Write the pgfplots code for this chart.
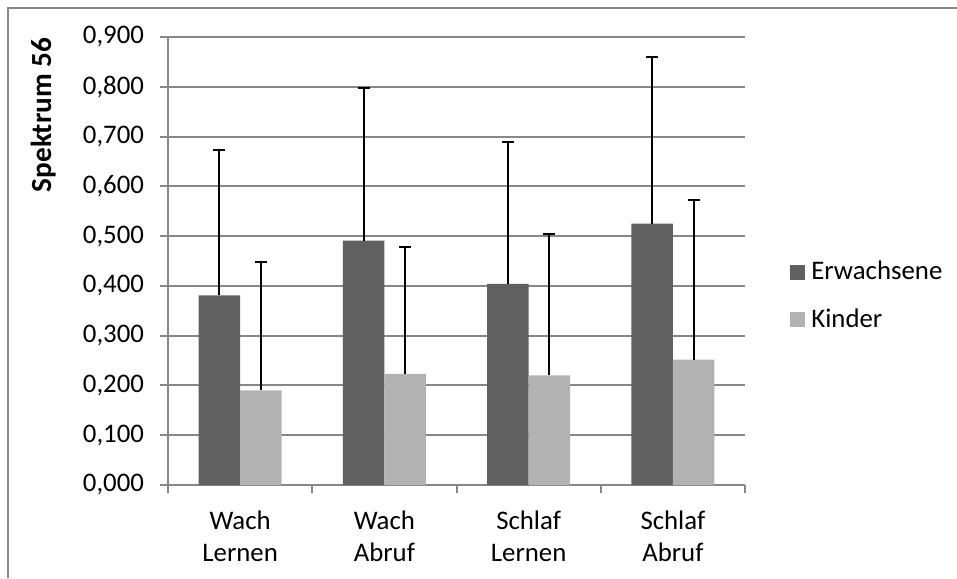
\documentclass[border=0pt]{standalone}
\usepackage{pgfplots}
\pgfplotsset{compat=1.18}
\usepackage{fontspec}
\setmainfont{Carlito}

\definecolor{erw}{HTML}{606060}
\definecolor{kind}{HTML}{B2B2B2}
\definecolor{gridgray}{HTML}{878787}

% 1 px of the reference = 0.5pt
\begin{document}
\begin{tikzpicture}[font=\fontsize{13.4}{16}\selectfont]
  \useasboundingbox (0,0) rectangle (478.5pt,289pt);
  \draw[gridgray, line width=1pt] (3.9pt,0) -- (3.9pt,285.2pt) -- (478.5pt,285.2pt);
  \node[rotate=90, font=\fontsize{14.6}{16}\selectfont\bfseries] at (21.7pt,231.5pt) {Spektrum 56};
  \begin{axis}[
    at={(84pt,46.5pt)}, anchor=south west,
    scale only axis,
    width=288.5pt, height=224pt,
    ybar=0pt, bar width=20.75pt,
    xmin=-0.5, xmax=3.5,
    ymin=0, ymax=0.9,
    ytick={0,0.1,...,0.9},
    xtick={0,1,2,3},
    xticklabels={{Wach\\Lernen},{Wach\\Abruf},{Schlaf\\Lernen},{Schlaf\\Abruf}},
    xticklabel style={align=center, yshift=-5.5pt},
    minor xtick={-0.5,0.5,1.5,2.5,3.5},
    major x tick style={draw=none},
    minor x tick style={gridgray, line width=1pt},
    y tick style={gridgray, line width=1pt},
    tick align=outside,
    major tick length=4pt, minor tick length=4pt,
    axis x line*=bottom, axis y line*=left,
    axis line style={gridgray, line width=1pt},
    ymajorgrids, grid style={gridgray, line width=1pt},
    yticklabel style={/pgf/number format/fixed, /pgf/number format/fixed zerofill,
      /pgf/number format/precision=3, /pgf/number format/use comma,
      /pgf/number format/assume math mode=true, xshift=-4.5pt},
    tick label style={font=\fontsize{13.4}{16}\selectfont},
    legend style={at={(1.078,0.422)}, anchor=west, draw=none, fill=none,
      font=\fontsize{13.4}{16}\selectfont, row sep=9pt, inner sep=0pt,
      nodes={inner xsep=3pt}},
    legend cell align=left,
    legend image code/.code={\fill[#1] (0pt,-3.75pt) rectangle (7.5pt,3.75pt);},
    error bars/y dir=plus, error bars/y explicit,
    error bars/error bar style={black, line width=1pt},
    error bars/error mark options={black, rotate=90, mark size=3pt, line width=1pt},
  ]
    \addplot[fill=erw, draw=none] coordinates {
      (0,0.381) +- (0,0.291)
      (1,0.491) +- (0,0.307)
      (2,0.404) +- (0,0.286)
      (3,0.525) +- (0,0.334)
    };
    \addlegendentry{Erwachsene}
    \addplot[fill=kind, draw=none] coordinates {
      (0,0.190) +- (0,0.258)
      (1,0.223) +- (0,0.256)
      (2,0.220) +- (0,0.285)
      (3,0.252) +- (0,0.321)
    };
    \addlegendentry{Kinder}
  \end{axis}
\end{tikzpicture}
\end{document}
